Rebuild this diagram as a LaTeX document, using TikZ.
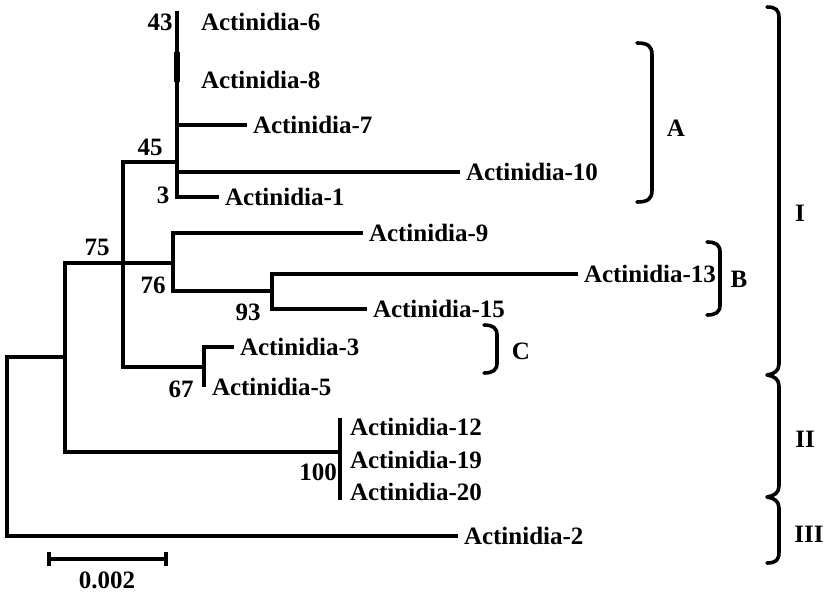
\documentclass[tikz,border=0pt]{standalone}
\usepackage{fontspec}
\setmainfont{Liberation Serif}
\begin{document}
\begin{tikzpicture}[x=1pt,y=-1pt,
  tree/.style={line width=3.5pt, line cap=rect},
  leaf/.style={anchor=west, inner sep=0pt, outer xsep=8pt, outer ysep=0pt, font=\bfseries\fontsize{25}{30}\selectfont},
  lab/.style={inner sep=0pt, font=\bfseries\fontsize{25}{30}\selectfont},
  brk/.style={line width=3.6pt, line cap=round, line join=round}]
\useasboundingbox[fill=white] (0,0) rectangle (828,592);

% leaves
\node[leaf] (l6)  at (193,22)  {Actinidia-6};
\node[leaf] (l8)  at (193,80)  {Actinidia-8};
\node[leaf] (l7)  at (245,125) {Actinidia-7};
\node[leaf] (l10) at (458,172) {Actinidia-10};
\node[leaf] (l1)  at (217,197) {Actinidia-1};
\node[leaf] (l9)  at (361,233) {Actinidia-9};
\node[leaf] (l13) at (576,274) {Actinidia-13};
\node[leaf] (l15) at (365,309) {Actinidia-15};
\node[leaf] (l3)  at (232,347) {Actinidia-3};
\node[leaf] (l5)  at (204,387) {Actinidia-5};
\node[leaf] (l12) at (342,427) {Actinidia-12};
\node[leaf] (l19) at (342,460) {Actinidia-19};
\node[leaf] (l20) at (342,492) {Actinidia-20};
\node[leaf] (l2)  at (456,536) {Actinidia-2};

% internal points
\coordinate (R) at (7,357);
\coordinate (N1) at (65,357); \coordinate (N1t) at (65,263); \coordinate (N1b) at (65,452);
\coordinate (N2t) at (123,162); \coordinate (N2b) at (123,367);
\coordinate (N76) at (173,263); \coordinate (N76t) at (173,233); \coordinate (N76b) at (173,291);
\coordinate (N93) at (272,291); \coordinate (N93t) at (272,274); \coordinate (N93b) at (272,309);
\coordinate (NC) at (204,367); \coordinate (NCt) at (204,347); \coordinate (NCb) at (204,385);
\coordinate (N45) at (177,162); \coordinate (N45t) at (177,13); \coordinate (N45b) at (177,197);
\coordinate (N45a) at (177,52); \coordinate (N45c) at (177,82);
\coordinate (NII) at (340,452); \coordinate (NIIt) at (340,420); \coordinate (NIIb) at (340,498);

\begin{scope}[tree]
\draw (l2) -| (R) -- (N1);
\draw (N1t) -- (N1b);
\draw (N1t) -- (N76);
\draw (N1b) -- (NII);
\draw (NIIt) -- (NIIb);
\draw (N2t) -- (N2b);
\draw (N2t) -- (N45);
\draw (N2b) -- (NC);
\draw (N76t) -- (N76b);
\draw (N76t) -- (l9);
\draw (N76b) -- (N93);
\draw (N93t) -- (N93b);
\draw (N93t) -- (l13);
\draw (N93b) -- (l15);
\draw (NCt) -- (NCb);
\draw (NCt) -- (l3);
\draw (N45t) -- (N45b);
\draw (N45) |- (l7);
\draw (N45) |- (l10);
\draw (N45b) -- (l1);
\draw[line width=6pt, line cap=butt] (N45a) -- (N45c);
\end{scope}

% bootstrap values
\node[lab] (b43) at (160,22) {43};
\node[lab] (b45) at (150,147) {45};
\node[lab] (b3) at (163,195) {3};
\node[lab] (b75) at (97,247) {75};
\node[lab] (b76) at (153,285) {76};
\node[lab] (b93) at (248,312) {93};
\node[lab] (b67) at (181,389) {67};
\node[lab] (b100) at (318,472) {100};

% scale bar
\coordinate (S1) at (49,559); \coordinate (S2) at (166,559);
\draw[line width=3.5pt] (S1) -- (S2);
\draw[line width=3.5pt] (S1) ++(0,-7) -- ++(0,14);
\draw[line width=3.5pt] (S2) ++(0,-7) -- ++(0,14);
\node[lab] (sc) at (107,580) {0.002};

% brackets
\coordinate (A1) at (637,43); \coordinate (A2) at (637,202);
\draw[brk] (A1) .. controls (648,43) and (652,46) .. (652,55) -- (652,190) .. controls (652,199) and (648,202) .. (A2);
\node[lab] (tA) at (676,128) {A};

\coordinate (B1) at (707,242); \coordinate (B2) at (707,315);
\draw[brk] (B1) .. controls (716,242) and (720,245) .. (720,252) -- (720,305) .. controls (720,312) and (716,315) .. (B2);
\node[lab] (tB) at (739,279) {B};

\coordinate (C1) at (484,325); \coordinate (C2) at (484,373);
\draw[brk] (C1) .. controls (493,325) and (497,328) .. (497,335) -- (497,363) .. controls (497,370) and (493,373) .. (C2);
\node[lab] (tC) at (521,351) {C};

\coordinate (I1) at (767,7); \coordinate (I2) at (767,375); \coordinate (I3) at (767,497); \coordinate (I4) at (767,563);
\draw[brk] (I1) .. controls (776,7) and (779,10) .. (779,18) -- (779,364)
  .. controls (779,371) and (774,374) .. (I2)
  .. controls (774,376) and (779,379) .. (779,386) -- (779,486)
  .. controls (779,493) and (774,496) .. (I3)
  .. controls (774,498) and (779,501) .. (779,508) -- (779,552)
  .. controls (779,560) and (776,563) .. (I4);
\node[lab] (tI) at (800,213) {I};
\node[lab] (tII) at (805,439) {II};
\node[lab] (tIII) at (809,534) {III};
\end{tikzpicture}
\end{document}
